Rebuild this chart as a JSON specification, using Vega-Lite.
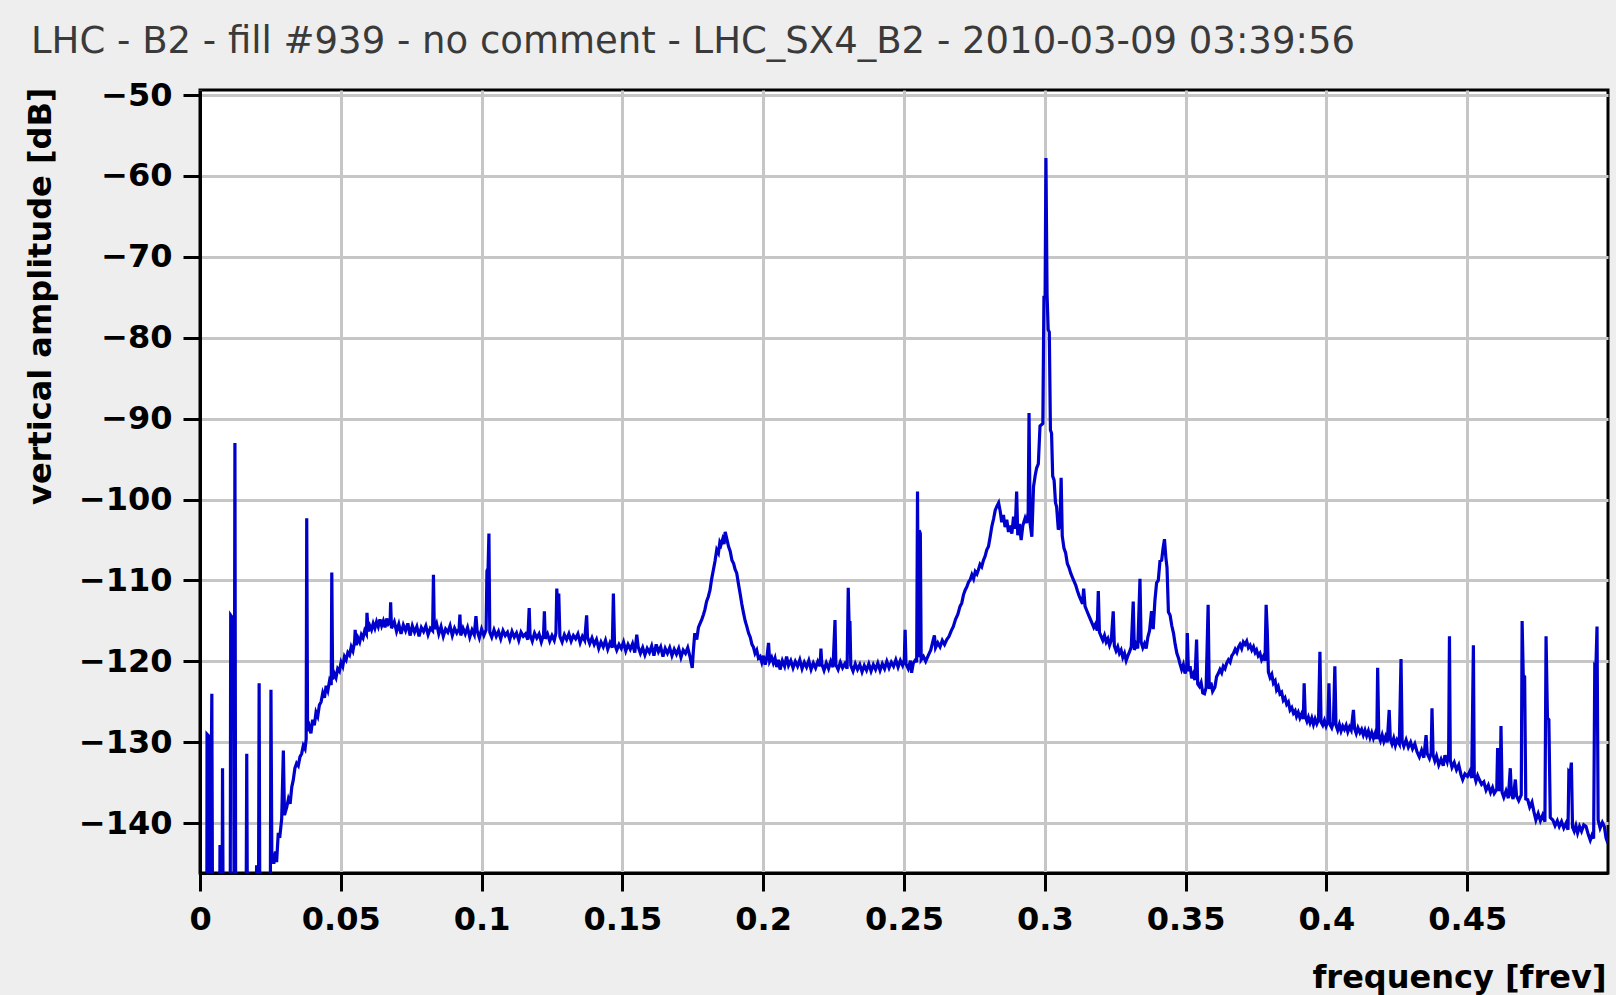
{
"$schema": "https://vega.github.io/schema/vega-lite/v6.json",
"width": 1408,
"height": 783,
"autosize": {"type": "none"},
"padding": {"left": 200, "top": 90, "right": 8, "bottom": 122},
"background": "#eeeeee",
"title": {"text": "LHC - B2 - fill #939 - no comment - LHC_SX4_B2 - 2010-03-09 03:39:56", "anchor": "start", "frame": "group", "font": "DejaVu Sans", "fontSize": 37, "fontWeight": "normal", "color": "#3a3a3a", "dx": -169, "dy": 21, "offset": 10, "baseline": "alphabetic"},
"config": {"view": {"fill": "white", "stroke": "black", "strokeWidth": 3}},
"data": {"values": [
{"freq":0,"amp":-160},{"freq":0.0024,"amp":-160},{"freq":0.0025,"amp":-129},{"freq":0.0033,"amp":-129.3},{"freq":0.0036,"amp":-152},{"freq":0.0042,"amp":-124},{"freq":0.0045,"amp":-158},{"freq":0.0069,"amp":-158},{"freq":0.0071,"amp":-142.7},{"freq":0.0074,"amp":-158},{"freq":0.0078,"amp":-158},{"freq":0.008,"amp":-133.2},{"freq":0.0083,"amp":-158},{"freq":0.0107,"amp":-158},{"freq":0.0109,"amp":-114.3},{"freq":0.0119,"amp":-114.8},{"freq":0.0121,"amp":-150},{"freq":0.0124,"amp":-93},{"freq":0.0127,"amp":-158},{"freq":0.0163,"amp":-158},{"freq":0.0166,"amp":-131.4},{"freq":0.0169,"amp":-158},{"freq":0.0198,"amp":-158},{"freq":0.0201,"amp":-145.2},{"freq":0.0204,"amp":-158},{"freq":0.0207,"amp":-158},{"freq":0.021,"amp":-122.7},{"freq":0.0213,"amp":-158},{"freq":0.0249,"amp":-158},{"freq":0.0252,"amp":-123.5},{"freq":0.0255,"amp":-143.7},{"freq":0.0262,"amp":-145},{"freq":0.0268,"amp":-143.5},{"freq":0.0272,"amp":-144.8},{"freq":0.0278,"amp":-141.2},
{"freq":0.0283,"amp":-141.8},{"freq":0.029,"amp":-139.5},{"freq":0.0296,"amp":-131},{"freq":0.03,"amp":-139},{"freq":0.0308,"amp":-138},{"freq":0.0314,"amp":-137},{"freq":0.032,"amp":-137.6},{"freq":0.0326,"amp":-135.5},{"freq":0.0331,"amp":-134.7},{"freq":0.0337,"amp":-133.2},{"freq":0.0343,"amp":-132.6},{"freq":0.0349,"amp":-132.9},{"freq":0.0355,"amp":-131.8},{"freq":0.0361,"amp":-131.4},{"freq":0.0367,"amp":-130.4},{"freq":0.0373,"amp":-130.8},{"freq":0.0377,"amp":-129.6},{"freq":0.0379,"amp":-102.3},{"freq":0.0382,"amp":-128.6},{"freq":0.0388,"amp":-128},{"freq":0.0394,"amp":-128.9},{"freq":0.04,"amp":-127.2},{"freq":0.0406,"amp":-127.9},{"freq":0.0412,"amp":-126.3},{"freq":0.0418,"amp":-126.8},{"freq":0.0424,"amp":-125.4},{"freq":0.043,"amp":-125},{"freq":0.0436,"amp":-123.9},{"freq":0.0442,"amp":-124.5},{"freq":0.0448,"amp":-123},{"freq":0.0454,"amp":-123.6},{"freq":0.046,"amp":-122.4},{"freq":0.0466,"amp":-122.9},{"freq":0.0468,"amp":-109},{"freq":0.0471,"amp":-122.2},{"freq":0.0477,"amp":-121.5},{"freq":0.0483,"amp":-122},{"freq":0.0489,"amp":-120.9},{"freq":0.0495,"amp":-121.2},{"freq":0.0501,"amp":-120.1},{"freq":0.0507,"amp":-120.6},{"freq":0.0513,"amp":-119.4},{"freq":0.0519,"amp":-119.8},{"freq":0.0525,"amp":-118.9},{"freq":0.0531,"amp":-119.2},{"freq":0.0537,"amp":-118.2},{"freq":0.0543,"amp":-118.7},{"freq":0.0549,"amp":-117.6},{"freq":0.0551,"amp":-116.1},{"freq":0.0555,"amp":-118},{"freq":0.0561,"amp":-117.1},{"freq":0.0567,"amp":-117.6},{"freq":0.0573,"amp":-116.7},{"freq":0.0579,"amp":-117.1},{"freq":0.0585,"amp":-116.2},{"freq":0.0591,"amp":-116.6},{"freq":0.0593,"amp":-114},{"freq":0.0597,"amp":-116.3},{"freq":0.0603,"amp":-115.6},{"freq":0.0609,"amp":-116.1},{"freq":0.0615,"amp":-115.3},{"freq":0.0621,"amp":-115.9},{"freq":0.0627,"amp":-115.1},{"freq":0.0633,"amp":-115.7},{"freq":0.0639,"amp":-114.8},{"freq":0.0645,"amp":-115.6},{"freq":0.0651,"amp":-115},{"freq":0.0657,"amp":-115.8},{"freq":0.0663,"amp":-114.7},{"freq":0.0669,"amp":-115.4},
{"freq":0.0675,"amp":-115.2},{"freq":0.0677,"amp":-112.7},{"freq":0.068,"amp":-115.9},{"freq":0.069,"amp":-115.1},{"freq":0.0698,"amp":-116.3},{"freq":0.0706,"amp":-115.4},{"freq":0.0714,"amp":-116.6},{"freq":0.0722,"amp":-115.5},{"freq":0.073,"amp":-116.2},{"freq":0.0738,"amp":-115.3},{"freq":0.0746,"amp":-116.8},{"freq":0.0754,"amp":-115.6},{"freq":0.0762,"amp":-116.4},{"freq":0.077,"amp":-115.7},{"freq":0.0778,"amp":-116.9},{"freq":0.0786,"amp":-115.8},{"freq":0.0794,"amp":-116.3},{"freq":0.0802,"amp":-115.6},{"freq":0.081,"amp":-116.7},{"freq":0.0818,"amp":-115.9},{"freq":0.0826,"amp":-116.2},{"freq":0.0829,"amp":-109.3},{"freq":0.0832,"amp":-116},{"freq":0.084,"amp":-115.3},{"freq":0.0848,"amp":-116.6},{"freq":0.0856,"amp":-115.7},{"freq":0.0864,"amp":-116.9},{"freq":0.0872,"amp":-116},{"freq":0.088,"amp":-116.4},{"freq":0.0888,"amp":-115.6},{"freq":0.0896,"amp":-116.8},{"freq":0.0904,"amp":-115.9},{"freq":0.0912,"amp":-116.5},{"freq":0.092,"amp":-116},{"freq":0.0923,"amp":-114.2},{"freq":0.0926,"amp":-116.8},{"freq":0.0934,"amp":-115.9},{"freq":0.0942,"amp":-116.6},{"freq":0.095,"amp":-115.8},{"freq":0.0958,"amp":-117},{"freq":0.0966,"amp":-116.1},{"freq":0.0974,"amp":-116.7},{"freq":0.098,"amp":-114.4},{"freq":0.0984,"amp":-116.2},{"freq":0.0992,"amp":-117.1},{"freq":0.1,"amp":-116},{"freq":0.1008,"amp":-116.8},{"freq":0.1016,"amp":-116.1},{"freq":0.1019,"amp":-108.8},{"freq":0.1023,"amp":-108.5},{"freq":0.1026,"amp":-104.2},{"freq":0.1029,"amp":-116.4},{"freq":0.1036,"amp":-117},{"freq":0.1044,"amp":-116.1},{"freq":0.1052,"amp":-116.9},{"freq":0.106,"amp":-116.3},{"freq":0.1068,"amp":-117.2},{"freq":0.1076,"amp":-116.2},{"freq":0.1084,"amp":-116.8},{"freq":0.1092,"amp":-116.4},{"freq":0.11,"amp":-117.3},{"freq":0.1108,"amp":-116.3},{"freq":0.1116,"amp":-117},{"freq":0.1124,"amp":-116.5},{"freq":0.1132,"amp":-117.4},{"freq":0.114,"amp":-116.4},{"freq":0.1148,"amp":-116.9},{"freq":0.1156,"amp":-116.6},{"freq":0.1164,"amp":-117.3},{"freq":0.1169,"amp":-113.4},{"freq":0.1172,"amp":-116.7},{"freq":0.118,"amp":-117.5},{"freq":0.1188,"amp":-116.5},{"freq":0.1196,"amp":-117.1},{"freq":0.1204,"amp":-116.6},{"freq":0.1212,"amp":-117.6},{"freq":0.122,"amp":-116.7},{"freq":0.1223,"amp":-113.8},{"freq":0.1226,"amp":-117.2},{"freq":0.1234,"amp":-116.6},{"freq":0.1242,"amp":-117.5},{"freq":0.125,"amp":-116.8},{"freq":0.1258,"amp":-117.4},{"freq":0.1264,"amp":-116.5},{"freq":0.1267,"amp":-111},{"freq":0.127,"amp":-113.5},{"freq":0.1274,"amp":-111.6},{"freq":0.1278,"amp":-116.9},{"freq":0.1286,"amp":-117.6},{"freq":0.1294,"amp":-116.7},{"freq":0.1302,"amp":-117.3},{"freq":0.131,"amp":-116.6},{"freq":0.1318,"amp":-117.5},{"freq":0.1326,"amp":-116.8},{"freq":0.1334,"amp":-117.2},{"freq":0.1342,"amp":-116.6},{"freq":0.135,"amp":-117.7},{"freq":0.1358,"amp":-116.9},{"freq":0.1366,"amp":-117.4},{"freq":0.1373,"amp":-114.3},{"freq":0.1376,"amp":-117},{"freq":0.1384,"amp":-117.8},{"freq":0.1392,"amp":-117.1},{"freq":0.14,"amp":-117.9},{"freq":0.1408,"amp":-117.3},{"freq":0.1416,"amp":-118.4},{"freq":0.1424,"amp":-117.6},{"freq":0.1432,"amp":-118.2},{"freq":0.144,"amp":-117.4},{"freq":0.1448,"amp":-118.5},{"freq":0.1456,"amp":-117.7},{"freq":0.1464,"amp":-118.3},{"freq":0.1468,"amp":-111.6},{"freq":0.1472,"amp":-117.8},{"freq":0.148,"amp":-118.6},{"freq":0.1488,"amp":-117.9},{"freq":0.1496,"amp":-118.4},{"freq":0.1504,"amp":-117.6},{"freq":0.1512,"amp":-118.7},{"freq":0.152,"amp":-117.9},{"freq":0.1528,"amp":-118.5},{"freq":0.1536,"amp":-117.8},{"freq":0.1544,"amp":-118.9},{"freq":0.1551,"amp":-116.7},{"freq":0.1556,"amp":-118.2},{"freq":0.1564,"amp":-119},{"freq":0.1572,"amp":-118.3},{"freq":0.158,"amp":-119.2},{"freq":0.1588,"amp":-118.4},{"freq":0.1596,"amp":-118.9},{"freq":0.1604,"amp":-118.1},{"freq":0.1612,"amp":-119.3},{"freq":0.162,"amp":-117.9},{"freq":0.1628,"amp":-118.8},{"freq":0.1636,"amp":-118.2},{"freq":0.1644,"amp":-119.4},{"freq":0.1652,"amp":-118.4},{"freq":0.166,"amp":-119},{"freq":0.1668,"amp":-118.3},{"freq":0.1676,"amp":-119.3},{"freq":0.1684,"amp":-118.5},{"freq":0.1692,"amp":-119.1},{"freq":0.17,"amp":-118.4},{"freq":0.1708,"amp":-119.5},{"freq":0.1716,"amp":-118.6},{"freq":0.1724,"amp":-119},{"freq":0.1732,"amp":-118.3},{"freq":0.174,"amp":-119.4},{"freq":0.1748,"amp":-120.8},{"freq":0.1752,"amp":-118.7},
{"freq":0.1757,"amp":-116.5},{"freq":0.1764,"amp":-117.3},{"freq":0.177,"amp":-115.8},{"freq":0.1776,"amp":-115.3},{"freq":0.1782,"amp":-114.8},{"freq":0.1788,"amp":-114.2},{"freq":0.1793,"amp":-113.6},{"freq":0.1799,"amp":-112.6},{"freq":0.1805,"amp":-112},{"freq":0.1811,"amp":-111.2},{"freq":0.1817,"amp":-109.8},{"freq":0.1823,"amp":-108.7},{"freq":0.1829,"amp":-107.6},{"freq":0.1835,"amp":-106.2},{"freq":0.1841,"amp":-106.6},{"freq":0.1846,"amp":-105.3},{"freq":0.185,"amp":-105.6},{"freq":0.1856,"amp":-104.9},{"freq":0.1861,"amp":-105.5},{"freq":0.1865,"amp":-104},{"freq":0.1871,"amp":-104.9},{"freq":0.1877,"amp":-105.8},{"freq":0.1883,"amp":-106.4},{"freq":0.1889,"amp":-107.5},{"freq":0.1895,"amp":-107.9},{"freq":0.19,"amp":-108.6},{"freq":0.1906,"amp":-109.1},{"freq":0.1912,"amp":-110.4},{"freq":0.1918,"amp":-111.6},{"freq":0.1924,"amp":-112.9},{"freq":0.193,"amp":-114},{"freq":0.1936,"amp":-115},{"freq":0.1942,"amp":-115.7},{"freq":0.1948,"amp":-116.5},{"freq":0.1954,"amp":-117},{"freq":0.196,"amp":-117.9},{"freq":0.1965,"amp":-118.2},{"freq":0.1971,"amp":-119},{"freq":0.1977,"amp":-118.6},{"freq":0.1983,"amp":-119.6},{"freq":0.1989,"amp":-119.4},{"freq":0.1995,"amp":-120.1},{"freq":0.2001,"amp":-119.3},{"freq":0.2007,"amp":-120.4},{"freq":0.2013,"amp":-119.6},{"freq":0.2019,"amp":-117.7},{"freq":0.2023,"amp":-120},{"freq":0.203,"amp":-119.5},{"freq":0.2036,"amp":-120.2},{"freq":0.2042,"amp":-119.6},{"freq":0.2048,"amp":-120.7},{"freq":0.2054,"amp":-119.8},{"freq":0.206,"amp":-121},{"freq":0.2068,"amp":-119.9},{"freq":0.2076,"amp":-120.6},{"freq":0.2083,"amp":-119.4},{"freq":0.209,"amp":-120.5},
{"freq":0.2098,"amp":-119.9},{"freq":0.2106,"amp":-120.8},{"freq":0.2114,"amp":-120},{"freq":0.2122,"amp":-120.6},{"freq":0.213,"amp":-119.8},{"freq":0.2138,"amp":-120.9},{"freq":0.2146,"amp":-120.1},{"freq":0.2154,"amp":-120.7},{"freq":0.2162,"amp":-119.9},{"freq":0.217,"amp":-121},{"freq":0.2178,"amp":-120.2},{"freq":0.2186,"amp":-120.8},{"freq":0.2194,"amp":-120},{"freq":0.2202,"amp":-120.6},{"freq":0.2205,"amp":-118.4},{"freq":0.2208,"amp":-120.3},{"freq":0.2216,"amp":-121.1},{"freq":0.2224,"amp":-120.2},{"freq":0.2232,"amp":-120.9},{"freq":0.224,"amp":-120},{"freq":0.2248,"amp":-120.7},{"freq":0.2255,"amp":-114.9},{"freq":0.2258,"amp":-120.4},{"freq":0.2266,"amp":-121},{"freq":0.2274,"amp":-120.1},{"freq":0.2282,"amp":-120.8},{"freq":0.229,"amp":-120.3},{"freq":0.2298,"amp":-120.9},{"freq":0.2302,"amp":-110.9},{"freq":0.2305,"amp":-115.4},{"freq":0.2308,"amp":-115},{"freq":0.2311,"amp":-120.5},{"freq":0.2319,"amp":-121.2},{"freq":0.2327,"amp":-120.3},{"freq":0.2335,"amp":-121},{"freq":0.2343,"amp":-120.4},{"freq":0.2351,"amp":-121.3},{"freq":0.2359,"amp":-120.5},{"freq":0.2367,"amp":-121.1},{"freq":0.2375,"amp":-120.3},{"freq":0.2383,"amp":-121.2},{"freq":0.2391,"amp":-120.4},{"freq":0.2399,"amp":-121},{"freq":0.2407,"amp":-120.2},{"freq":0.2415,"amp":-121.1},{"freq":0.2423,"amp":-120.3},{"freq":0.2431,"amp":-120.9},{"freq":0.2439,"amp":-120},{"freq":0.2447,"amp":-120.8},{"freq":0.2455,"amp":-120.1},{"freq":0.2463,"amp":-120.6},{"freq":0.2471,"amp":-119.8},{"freq":0.2479,"amp":-120.7},{"freq":0.2487,"amp":-119.9},{"freq":0.2495,"amp":-120.5},{"freq":0.2501,"amp":-119.8},{"freq":0.2504,"amp":-116.1},{"freq":0.2507,"amp":-120.3},{"freq":0.2515,"amp":-120.9},{"freq":0.2523,"amp":-119.9},{"freq":0.2527,"amp":-121.4},{"freq":0.2533,"amp":-120.2},{"freq":0.2541,"amp":-119.8},{"freq":0.2545,"amp":-120.1},{"freq":0.2548,"amp":-99},{"freq":0.2551,"amp":-119.5},{"freq":0.2554,"amp":-103.8},{"freq":0.2558,"amp":-104.2},{"freq":0.2561,"amp":-119.8},{"freq":0.2569,"amp":-119.4},{"freq":0.2577,"amp":-120},{"freq":0.2587,"amp":-119.2},
{"freq":0.2595,"amp":-118.6},{"freq":0.2604,"amp":-117.3},{"freq":0.2608,"amp":-116.8},{"freq":0.2612,"amp":-118.3},{"freq":0.262,"amp":-117.7},{"freq":0.2628,"amp":-118.2},{"freq":0.2636,"amp":-117.4},{"freq":0.2644,"amp":-117.9},{"freq":0.2652,"amp":-117.3},{"freq":0.266,"amp":-116.9},{"freq":0.2668,"amp":-116.2},{"freq":0.2675,"amp":-115.7},{"freq":0.2683,"amp":-114.8},{"freq":0.2691,"amp":-114.2},{"freq":0.2699,"amp":-113.2},{"freq":0.2705,"amp":-112.8},{"freq":0.2711,"amp":-111.8},{"freq":0.2717,"amp":-111.2},{"freq":0.2723,"amp":-110.8},{"freq":0.2729,"amp":-110.2},{"freq":0.2735,"amp":-109.9},{"freq":0.2741,"amp":-109.3},{"freq":0.2747,"amp":-109.8},{"freq":0.2753,"amp":-108.9},{"freq":0.2759,"amp":-109.2},{"freq":0.2764,"amp":-108.7},{"freq":0.277,"amp":-108},{"freq":0.2776,"amp":-108.3},{"freq":0.2782,"amp":-107.5},{"freq":0.2788,"amp":-107},{"freq":0.2794,"amp":-106.2},{"freq":0.28,"amp":-105.8},{"freq":0.2806,"amp":-104.6},{"freq":0.2812,"amp":-103.3},{"freq":0.2818,"amp":-102.4},{"freq":0.2824,"amp":-101.3},{"freq":0.283,"amp":-100.8},{"freq":0.2836,"amp":-100.4},{"freq":0.2842,"amp":-101.5},{"freq":0.2847,"amp":-102.8},{"freq":0.2853,"amp":-101.9},{"freq":0.2859,"amp":-103.4},{"freq":0.2865,"amp":-102.5},{"freq":0.2871,"amp":-104},{"freq":0.2877,"amp":-103.2},{"freq":0.2883,"amp":-104.2},{"freq":0.2889,"amp":-102.1},{"freq":0.2895,"amp":-103.6},{"freq":0.29,"amp":-99},{"freq":0.2904,"amp":-104.4},{"freq":0.291,"amp":-103},{"freq":0.2916,"amp":-105},{"freq":0.2922,"amp":-103.2},{"freq":0.293,"amp":-102.3},{"freq":0.2936,"amp":-102.9},{"freq":0.2941,"amp":-101.6},{"freq":0.2944,"amp":-89.3},{"freq":0.2948,"amp":-103},{"freq":0.2954,"amp":-104.6},{"freq":0.296,"amp":-98.4},{"freq":0.2966,"amp":-97},{"freq":0.2971,"amp":-96.1},{"freq":0.2977,"amp":-95.6},{"freq":0.2983,"amp":-90.9},{"freq":0.2993,"amp":-90.6},{"freq":0.2997,"amp":-74.8},{"freq":0.3001,"amp":-75.2},{"freq":0.3004,"amp":-57.8},{"freq":0.3008,"amp":-74.6},{"freq":0.3012,"amp":-79},{"freq":0.3016,"amp":-79.3},{"freq":0.302,"amp":-91.4},{"freq":0.3024,"amp":-91.8},{"freq":0.3028,"amp":-97.1},{"freq":0.3033,"amp":-97.6},{"freq":0.3038,"amp":-100.4},{"freq":0.3042,"amp":-100.9},{"freq":0.3048,"amp":-103.7},{"freq":0.3054,"amp":-103.2},{"freq":0.3058,"amp":-97.3},{"freq":0.3062,"amp":-104.5},{"freq":0.3068,"amp":-106},{"freq":0.3074,"amp":-106.6},{"freq":0.308,"amp":-107.9},{"freq":0.3086,"amp":-108.4},{"freq":0.3092,"amp":-109.1},{"freq":0.3098,"amp":-109.6},{"freq":0.3104,"amp":-110.1},{"freq":0.311,"amp":-110.6},{"freq":0.3116,"amp":-111.3},{"freq":0.3122,"amp":-111.9},{"freq":0.3128,"amp":-112.4},{"freq":0.3134,"amp":-112.9},{"freq":0.3138,"amp":-111},{"freq":0.3143,"amp":-113.2},{"freq":0.315,"amp":-113.8},{"freq":0.3156,"amp":-114.3},{"freq":0.3162,"amp":-114.8},{"freq":0.3168,"amp":-115.3},{"freq":0.3174,"amp":-115.8},{"freq":0.318,"amp":-115.4},{"freq":0.3186,"amp":-116.2},{"freq":0.319,"amp":-111.3},{"freq":0.3194,"amp":-116.4},{"freq":0.32,"amp":-116.9},{"freq":0.3206,"amp":-117.4},{"freq":0.3212,"amp":-116.8},{"freq":0.3218,"amp":-117.6},{"freq":0.3224,"amp":-117.2},{"freq":0.323,"amp":-118},{"freq":0.3236,"amp":-117.4},{"freq":0.3243,"amp":-113.8},{"freq":0.3247,"amp":-118.1},{"freq":0.3253,"amp":-118.7},{"freq":0.3259,"amp":-118.2},{"freq":0.3265,"amp":-119},{"freq":0.3271,"amp":-118.6},{"freq":0.3277,"amp":-119.5},{"freq":0.3283,"amp":-119},{"freq":0.3289,"amp":-119.9},{"freq":0.3295,"amp":-119.3},{"freq":0.3301,"amp":-118.8},{"freq":0.3307,"amp":-118.2},{"freq":0.3314,"amp":-112.6},{"freq":0.3318,"amp":-118.6},{"freq":0.3324,"amp":-117.9},{"freq":0.333,"amp":-118.4},{"freq":0.3338,"amp":-109.8},{"freq":0.3342,"amp":-117.6},{"freq":0.3348,"amp":-118.3},{"freq":0.3354,"amp":-117.8},{"freq":0.336,"amp":-118.4},{"freq":0.3366,"amp":-117},{"freq":0.3372,"amp":-116.2},{"freq":0.3379,"amp":-113.8},{"freq":0.3385,"amp":-116},{"freq":0.3391,"amp":-112.5},{"freq":0.3397,"amp":-110.3},{"freq":0.3403,"amp":-110},{"freq":0.3409,"amp":-107.6},{"freq":0.3415,"amp":-107.5},{"freq":0.342,"amp":-106},{"freq":0.3425,"amp":-104.9},{"freq":0.343,"amp":-107.2},{"freq":0.3434,"amp":-108.4},{"freq":0.3439,"amp":-113.9},{"freq":0.3445,"amp":-114.3},{"freq":0.3451,"amp":-115.6},{"freq":0.3457,"amp":-116.5},{"freq":0.3463,"amp":-117.9},{"freq":0.3469,"amp":-119},{"freq":0.3475,"amp":-119.6},{"freq":0.348,"amp":-120.3},{"freq":0.3486,"amp":-121},{"freq":0.3492,"amp":-120.4},{"freq":0.3498,"amp":-121.5},{"freq":0.3504,"amp":-120.8},{"freq":0.3506,"amp":-116.5},{"freq":0.351,"amp":-121.2},{"freq":0.3516,"amp":-120.6},{"freq":0.3522,"amp":-122.1},{"freq":0.3527,"amp":-121.6},{"freq":0.3533,"amp":-122.3},{"freq":0.3539,"amp":-117.3},{"freq":0.3543,"amp":-122.8},{"freq":0.3549,"amp":-123.1},{"freq":0.3555,"amp":-122.6},{"freq":0.3561,"amp":-123.9},{"freq":0.3567,"amp":-124},{"freq":0.3573,"amp":-123.2},{"freq":0.358,"amp":-113},{"freq":0.3584,"amp":-123.4},{"freq":0.359,"amp":-122.6},{"freq":0.3596,"amp":-123.7},{"freq":0.3604,"amp":-123.2},{"freq":0.361,"amp":-121.9},{"freq":0.3616,"amp":-121.5},{"freq":0.3622,"amp":-121},{"freq":0.3628,"amp":-121.4},{"freq":0.3634,"amp":-120.6},{"freq":0.364,"amp":-120.9},{"freq":0.3646,"amp":-120.2},{"freq":0.3652,"amp":-119.8},{"freq":0.3658,"amp":-120.1},{"freq":0.3664,"amp":-119.3},{"freq":0.367,"amp":-119},{"freq":0.3676,"amp":-118.5},{"freq":0.3682,"amp":-118.9},{"freq":0.3688,"amp":-118.2},{"freq":0.3693,"amp":-117.9},{"freq":0.3699,"amp":-118.4},{"freq":0.3705,"amp":-117.6},{"freq":0.3711,"amp":-117.9},{"freq":0.3717,"amp":-117.5},{"freq":0.3723,"amp":-118.3},{"freq":0.3729,"amp":-118},{"freq":0.3735,"amp":-118.6},{"freq":0.3741,"amp":-118.2},{"freq":0.3747,"amp":-118.9},{"freq":0.3752,"amp":-118.6},{"freq":0.3758,"amp":-119.3},{"freq":0.3764,"amp":-119},{"freq":0.377,"amp":-119.8},{"freq":0.3776,"amp":-119.4},{"freq":0.3782,"amp":-119.9},{"freq":0.3786,"amp":-113},{"freq":0.379,"amp":-116.2},{"freq":0.3794,"amp":-121.3},{"freq":0.38,"amp":-122},{"freq":0.3806,"amp":-121.6},{"freq":0.3812,"amp":-122.7},{"freq":0.3818,"amp":-122.4},{"freq":0.3823,"amp":-123.5},{"freq":0.3829,"amp":-123.1},{"freq":0.3835,"amp":-124},{"freq":0.3841,"amp":-123.8},{"freq":0.3847,"amp":-124.8},{"freq":0.3853,"amp":-124.5},{"freq":0.3859,"amp":-125.3},{"freq":0.3865,"amp":-125},{"freq":0.3871,"amp":-126},{"freq":0.3877,"amp":-125.7},{"freq":0.3883,"amp":-126.4},{"freq":0.3889,"amp":-126.1},{"freq":0.3894,"amp":-126.8},{"freq":0.39,"amp":-126.3},{"freq":0.3906,"amp":-127},{"freq":0.3912,"amp":-126.5},{"freq":0.3918,"amp":-127.1},{"freq":0.3921,"amp":-122.7},{"freq":0.3925,"amp":-126.8},{"freq":0.3931,"amp":-127.4},{"freq":0.3936,"amp":-126.9},{"freq":0.3942,"amp":-127.6},{"freq":0.3948,"amp":-127},{"freq":0.3954,"amp":-127.8},{"freq":0.396,"amp":-127.1},{"freq":0.3966,"amp":-127.7},{"freq":0.3972,"amp":-127.2},{"freq":0.3977,"amp":-118.8},{"freq":0.3981,"amp":-127.5},{"freq":0.3987,"amp":-127.9},{"freq":0.3993,"amp":-127.3},{"freq":0.3999,"amp":-128},{"freq":0.4005,"amp":-127.4},{"freq":0.4009,"amp":-122.7},{"freq":0.4013,"amp":-127.8},{"freq":0.4019,"amp":-128.2},{"freq":0.4025,"amp":-127.5},{"freq":0.403,"amp":-120.6},{"freq":0.4034,"amp":-127.9},{"freq":0.404,"amp":-128.5},{"freq":0.4046,"amp":-127.8},{"freq":0.4052,"amp":-128.6},{"freq":0.4058,"amp":-128},{"freq":0.4064,"amp":-128.4},{"freq":0.407,"amp":-127.9},{"freq":0.4076,"amp":-128.7},{"freq":0.4082,"amp":-128.1},{"freq":0.4088,"amp":-128.5},{"freq":0.4096,"amp":-126},{"freq":0.41,"amp":-128.3},{"freq":0.4106,"amp":-128.9},{"freq":0.4112,"amp":-128.2},{"freq":0.4119,"amp":-128.8},{"freq":0.4125,"amp":-128.4},{"freq":0.4131,"amp":-129.1},{"freq":0.4137,"amp":-128.5},{"freq":0.4143,"amp":-129.2},{"freq":0.4149,"amp":-128.6},{"freq":0.4155,"amp":-129.4},{"freq":0.4161,"amp":-128.8},{"freq":0.4167,"amp":-129.5},{"freq":0.4173,"amp":-128.9},{"freq":0.4179,"amp":-129.6},{"freq":0.4182,"amp":-120.8},{"freq":0.4186,"amp":-129.2},{"freq":0.4192,"amp":-129.8},{"freq":0.4198,"amp":-129.1},{"freq":0.4204,"amp":-129.9},{"freq":0.421,"amp":-129.3},{"freq":0.4216,"amp":-130},{"freq":0.4223,"amp":-126},{"freq":0.4227,"amp":-129.6},{"freq":0.4233,"amp":-130.2},{"freq":0.4239,"amp":-129.5},{"freq":0.4245,"amp":-130.4},{"freq":0.4251,"amp":-129.7},{"freq":0.4259,"amp":-130.2},{"freq":0.4265,"amp":-119.7},{"freq":0.4269,"amp":-129.9},{"freq":0.4275,"amp":-130.5},{"freq":0.4283,"amp":-129.7},{"freq":0.4291,"amp":-130.6},{"freq":0.4299,"amp":-130},{"freq":0.4306,"amp":-130.8},{"freq":0.4314,"amp":-130.2},{"freq":0.4322,"amp":-131.2},{"freq":0.433,"amp":-131.8},{"freq":0.4338,"amp":-131},{"freq":0.4346,"amp":-131.9},{"freq":0.4354,"amp":-129.1},{"freq":0.4358,"amp":-131.4},{"freq":0.4366,"amp":-132},{"freq":0.4372,"amp":-131.3},{"freq":0.4375,"amp":-125.8},{"freq":0.4379,"amp":-131.6},{"freq":0.4385,"amp":-132.3},{"freq":0.4391,"amp":-131.7},{"freq":0.4399,"amp":-132.8},{"freq":0.4407,"amp":-132.1},{"freq":0.4415,"amp":-132.9},{"freq":0.4421,"amp":-131.6},{"freq":0.4429,"amp":-132.4},{"freq":0.4434,"amp":-131.5},{"freq":0.4437,"amp":-116.9},{"freq":0.444,"amp":-132.2},{"freq":0.4446,"amp":-133.1},{"freq":0.4454,"amp":-132.5},{"freq":0.4462,"amp":-133.4},{"freq":0.447,"amp":-132.8},{"freq":0.4478,"amp":-134},{"freq":0.4484,"amp":-134.6},{"freq":0.4492,"amp":-133.9},{"freq":0.4501,"amp":-134.2},{"freq":0.4509,"amp":-133.6},{"freq":0.4516,"amp":-134.4},{"freq":0.4522,"amp":-118},{"freq":0.4525,"amp":-134},{"freq":0.4531,"amp":-134.8},{"freq":0.4537,"amp":-134.1},{"freq":0.4543,"amp":-134.6},{"freq":0.4551,"amp":-135.2},{"freq":0.4559,"amp":-134.9},{"freq":0.4567,"amp":-135.9},{"freq":0.4575,"amp":-135.3},{"freq":0.4583,"amp":-136.2},{"freq":0.459,"amp":-135.6},{"freq":0.4596,"amp":-136.3},{"freq":0.4605,"amp":-135.8},{"freq":0.4608,"amp":-130.7},{"freq":0.4612,"amp":-136},{"freq":0.4617,"amp":-135.5},{"freq":0.462,"amp":-128},{"freq":0.4624,"amp":-136.2},{"freq":0.463,"amp":-136.8},{"freq":0.4638,"amp":-136},{"freq":0.4646,"amp":-136.9},{"freq":0.4653,"amp":-133.2},{"freq":0.4657,"amp":-136.4},{"freq":0.4663,"amp":-137},{"freq":0.4671,"amp":-134.6},{"freq":0.4675,"amp":-136.6},{"freq":0.4683,"amp":-137.2},{"freq":0.4692,"amp":-136.5},{"freq":0.4695,"amp":-115},{"freq":0.4699,"amp":-121.7},{"freq":0.4704,"amp":-121.9},{"freq":0.4708,"amp":-137},{"freq":0.4715,"amp":-137.1},{"freq":0.4722,"amp":-138},{"freq":0.473,"amp":-137.4},{"freq":0.4737,"amp":-138.6},{"freq":0.4744,"amp":-139.6},{"freq":0.4752,"amp":-138.8},{"freq":0.476,"amp":-139.7},{"freq":0.4768,"amp":-139},{"freq":0.4776,"amp":-139.8},{"freq":0.478,"amp":-116.9},{"freq":0.4785,"amp":-127},{"freq":0.479,"amp":-127.2},{"freq":0.4795,"amp":-139.3},{"freq":0.4804,"amp":-139.6},{"freq":0.4812,"amp":-140.3},{"freq":0.482,"amp":-139.7},{"freq":0.4827,"amp":-140.4},{"freq":0.4835,"amp":-139.8},{"freq":0.4843,"amp":-140.6},{"freq":0.4851,"amp":-140},{"freq":0.4858,"amp":-140.8},{"freq":0.4861,"amp":-133.6},{"freq":0.4866,"amp":-133.8},{"freq":0.487,"amp":-132.5},{"freq":0.4874,"amp":-140.5},{"freq":0.488,"amp":-141},{"freq":0.4886,"amp":-140.3},{"freq":0.4892,"amp":-141.2},{"freq":0.4899,"amp":-140.4},{"freq":0.4906,"amp":-141},{"freq":0.4914,"amp":-140.2},{"freq":0.4922,"amp":-140.4},{"freq":0.493,"amp":-141.4},{"freq":0.4937,"amp":-142.1},{"freq":0.4943,"amp":-141.5},{"freq":0.4949,"amp":-141.9},{"freq":0.4953,"amp":-120.6},{"freq":0.4957,"amp":-120.8},{"freq":0.4961,"amp":-115.7},{"freq":0.4965,"amp":-139.6},{"freq":0.4972,"amp":-140.6},{"freq":0.498,"amp":-139.9},{"freq":0.4987,"amp":-140.4},{"freq":0.4993,"amp":-141.8},{"freq":0.5,"amp":-142.5}
]},
"mark": {"type": "line", "color": "#0000cc", "strokeWidth": 3.2, "strokeJoin": "miter", "clip": true},
"encoding": {
"x": {"field": "freq", "type": "quantitative", "scale": {"domain": [0, 0.5], "nice": false, "zero": false},
 "axis": {"values": [0,0.05,0.1,0.15,0.2,0.25,0.3,0.35,0.4,0.45], "format": "~g", "title": "frequency [frev]", "grid": true, "gridColor": "#c6c6c6", "gridWidth": 3, "domain": true, "domainColor": "black", "domainWidth": 3, "ticks": true, "tickColor": "black", "tickWidth": 3, "tickSize": 18, "labelFont": "DejaVu Sans", "labelFontWeight": "bold", "labelFontSize": 32, "labelColor": "black", "labelPadding": 13, "labelFlush": false, "labelOverlap": false, "titleFont": "DejaVu Sans", "titleFontWeight": "bold", "titleFontSize": 32, "titleColor": "black", "titleAnchor": "end", "titleAlign": "right", "titleBaseline": "alphabetic", "titleX": 1406, "titleY": 114}},
"y": {"field": "amp", "type": "quantitative", "scale": {"domain": [-146.15, -49.38], "nice": false, "zero": false},
 "axis": {"values": [-140,-130,-120,-110,-100,-90,-80,-70,-60,-50], "title": "vertical amplitude [dB]", "grid": true, "gridColor": "#c6c6c6", "gridWidth": 3, "domain": true, "domainColor": "black", "domainWidth": 3, "ticks": true, "tickColor": "black", "tickWidth": 3, "tickSize": 17, "labelFont": "DejaVu Sans", "labelFontWeight": "bold", "labelFontSize": 32, "labelColor": "black", "labelPadding": 11, "labelFlush": false, "labelOverlap": false, "titleFont": "DejaVu Sans", "titleFontWeight": "bold", "titleFontSize": 32, "titleColor": "black", "titleAngle": 270, "titleAnchor": "end", "titleAlign": "right", "titleBaseline": "alphabetic", "titleX": -150, "titleY": -3}}
}
}
